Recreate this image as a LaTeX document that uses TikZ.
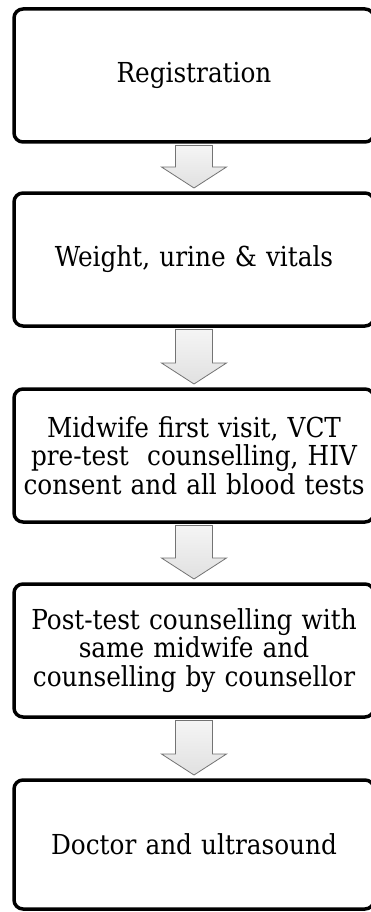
\documentclass[tikz,border=0pt]{standalone}
\usepackage{fontspec}
\setmainfont{DejaVu Serif Condensed}
\usepackage{tikz}
\usetikzlibrary{positioning,calc}

\tikzset{
  stage/.style={draw, line width=3.5pt, rounded corners=9pt, outer sep=0pt,
    minimum width=360pt, minimum height=133pt, text width=356pt, align=center,
    inner sep=0pt, font=\fontsize{27.5}{28.7}\selectfont},
  flowarrow/.style={draw=black!55, line width=0.8pt, top color=black!4, bottom color=black!12}
}

\begin{document}
\begin{tikzpicture}[x=1pt,y=1pt]
		\useasboundingbox (0,0) rectangle (371,-912);

		\node[stage] (reg) at (194,-75.5) {Registration};
		\node[stage] (wgt) [below = 51pt of reg] {Weight, urine \& vitals};
		\node[stage] (mid) [below = 63pt of wgt] {Midwife first visit, VCT\\ pre-test\ \ counselling, HIV\\ consent and all blood tests};
		\node[stage] (post) [below = 62pt of mid] {Post-test counselling with\\ same midwife and\\ counselling by counsellor};
		\node[stage,minimum height=129pt] (doc) [below = 63pt of post] {Doctor and ultrasound};

		% block arrows between the stages
		\foreach \a/\b in {reg/wgt, wgt/mid, mid/post, post/doc}
			\draw[flowarrow] ($(\a.south)+(-18.5,-3.5)$) -- ($(\a.south)+(18.5,-3.5)$)
				-- ($(\b.north)+(18.5,26)$) -- ($(\b.north)+(32.5,26)$) -- ($(\b.north)+(0,5)$)
				-- ($(\b.north)+(-32.5,26)$) -- ($(\b.north)+(-18.5,26)$) -- cycle;
	\end{tikzpicture}
\end{document}
